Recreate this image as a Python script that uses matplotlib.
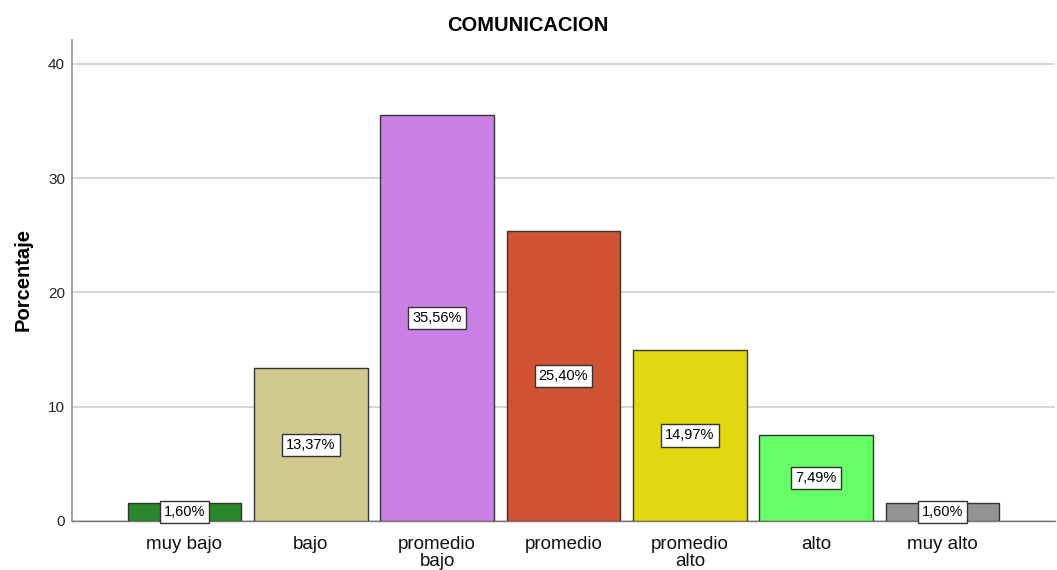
import matplotlib
matplotlib.use("Agg")
import matplotlib.pyplot as plt

categories = ["muy bajo", "bajo", "promedio\nbajo", "promedio", "promedio\nalto", "alto", "muy alto"]
values = [1.60, 13.37, 35.56, 25.40, 14.97, 7.49, 1.60]
labels = ["1,60%", "13,37%", "35,56%", "25,40%", "14,97%", "7,49%", "1,60%"]
colors = ["#2b872b", "#d0ca8f", "#cb80e5", "#d05333", "#e2d811", "#66ff66", "#959292"]
yticks = [0, 10, 20, 30, 40]

plt.rcParams['font.family'] = ['Liberation Sans', 'DejaVu Sans']
fig = plt.figure(figsize=(10.57, 5.70), dpi=100)
ax = fig.add_axes([0.0681, 0.086, 0.930, 0.844])

x = list(range(len(categories)))
ax.bar(x, values, width=0.9, color=colors, edgecolor="#333333", linewidth=1.0, zorder=3)
for xi, v, lab in zip(x, values, labels):
    ax.text(xi, v / 2, lab, ha="center", va="center", fontsize=10.5, zorder=4,
            bbox=dict(boxstyle="square,pad=0.28", facecolor="white", edgecolor="#333333", linewidth=1.0))

ax.set_xlim(-0.89, 6.89)
ax.set_ylim(0, 42.1)
ax.set_yticks(yticks)
ax.set_yticklabels([str(t) for t in yticks], fontsize=11, color="#222222")
ax.set_xticks(x)
ax.set_xticklabels(categories, fontsize=13.5, linespacing=0.95, color="#111111")
ax.tick_params(axis="y", length=0, pad=5)
ax.tick_params(axis="x", length=0, pad=11)
ax.grid(axis="y", color="#d0d0d0", linewidth=1.2, zorder=0)
for s in ["top", "right"]:
    ax.spines[s].set_visible(False)
ax.spines["left"].set_color("#999999")
ax.spines["left"].set_linewidth(1.3)
ax.spines["bottom"].set_color("#777777")
ax.spines["bottom"].set_linewidth(1.0)

fig.text(0.4995, 0.956, "COMUNICACION", ha="center", va="center", fontsize=14.5, fontweight="bold")
fig.text(0.022, 0.509, "Porcentaje", ha="center", va="center", rotation=90, fontsize=14.5, fontweight="bold")

fig.savefig("out.png", dpi=100)
